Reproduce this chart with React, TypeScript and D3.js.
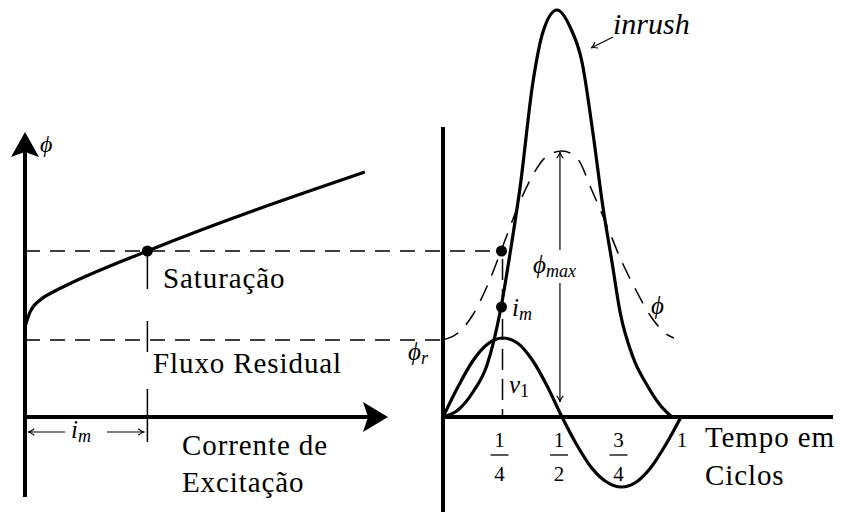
import React from 'react';
import * as d3 from 'd3';

const W = 841;
const H = 514;

// Magnetisation curve: excitation current vs. flux
const excitationCurrent = [0, 0.14, 0.42, 0.78, 1.17, 3.4, 9.44];
const magnetFlux = [0.9, 1.05, 1.17, 1.25, 1.32, 1.66, 2.45];

const saturationFlux = 1.66;
const residualFlux = 0.77;
const magnetizingCurrent = 3.4;
const fluxPeak = 2.67;
const fluxPeakTime = 0.483;
const inrushAtQuarter = 1.1;
const quarterCycle = 0.25;

// Applied voltage over one cycle
const voltageTime = [0, 0.0625, 0.125, 0.1875, 0.25, 0.3125, 0.375, 0.4375, 0.5, 0.5625, 0.625, 0.6875, 0.75, 0.8125, 0.875, 0.9375, 1];
const voltageValues = [0, 0.3, 0.56, 0.73, 0.79, 0.74, 0.57, 0.31, 0, -0.28, -0.51, -0.65, -0.7, -0.65, -0.5, -0.27, 0];

// Core flux starting from the residual flux
const fluxTime = [0, 0.0625, 0.125, 0.1875, 0.25, 0.3125, 0.375, 0.4375, 0.5, 0.5625, 0.625, 0.6875, 0.75, 0.8125, 0.875, 0.9375, 0.97];
const fluxValues = [0.77, 0.84, 1.02, 1.32, 1.7, 2.09, 2.41, 2.61, 2.66, 2.59, 2.27, 1.92, 1.56, 1.26, 1.0, 0.83, 0.79];

// Inrush current
const inrushTime = [0, 0.063, 0.126, 0.185, 0.244, 0.282, 0.324, 0.378, 0.42, 0.479, 0.534, 0.584, 0.63, 0.672, 0.71, 0.744, 0.798, 0.857, 0.912, 0.962];
const inrushValues = [0, 0.07, 0.25, 0.52, 1.1, 1.64, 2.3, 3.35, 3.85, 4.07, 3.9, 3.55, 2.84, 2.1, 1.55, 1.05, 0.6, 0.32, 0.12, 0];

const timeTicks = [
  { t: 0.25, num: '1', den: '4' },
  { t: 0.5, num: '1', den: '2' },
  { t: 0.75, num: '3', den: '4' },
];

const SERIF = "'Liberation Serif', 'DejaVu Serif', serif";

const yS = d3.scaleLinear().domain([0, 4]).range([417, 17]);
const xL = d3.scaleLinear().domain([0, 10]).range([25, 385]);
const xR = d3.scaleLinear().domain([0, 1]).range([443, 681]);

type Pt = [number, number];
const zip = (a: number[], b: number[]): Pt[] => a.map((v, i) => [v, b[i]]);

const lineL = d3
  .line<Pt>()
  .x((d) => xL(d[0]))
  .y((d) => yS(d[1]))
  .curve(d3.curveMonotoneX);

const lineR = d3
  .line<Pt>()
  .x((d) => xR(d[0]))
  .y((d) => yS(d[1]))
  .curve(d3.curveMonotoneX);

// Thick "stealth" arrow head, tip at (x, y), pointing along angle (deg, 0 = right)
function stealth(x: number, y: number, angle: number, len = 25, half = 14, notch = 5) {
  const pts: Pt[] = [
    [0, 0],
    [-len, -half],
    [-len + notch, 0],
    [-len, half],
  ];
  const a = (angle * Math.PI) / 180;
  const r = pts.map(([px, py]) => [x + px * Math.cos(a) - py * Math.sin(a), y + px * Math.sin(a) + py * Math.cos(a)]);
  return `M${r.map((p) => p.join(',')).join('L')}Z`;
}

// Thin open arrow head
function thinHead(x: number, y: number, angle: number, len = 7, spread = 28) {
  const a = (angle * Math.PI) / 180;
  const s = (spread * Math.PI) / 180;
  const p1 = [x - len * Math.cos(a - s), y - len * Math.sin(a - s)];
  const p2 = [x - len * Math.cos(a + s), y - len * Math.sin(a + s)];
  return `M${p1.join(',')}Q${x - 2 * Math.cos(a)},${y - 2 * Math.sin(a)} ${x},${y}Q${x - 2 * Math.cos(a)},${y - 2 * Math.sin(a)} ${p2.join(',')}`;
}

export default function App() {
  const axisY = yS(0);
  const satY = yS(saturationFlux);
  const resY = yS(residualFlux);
  const imX = xL(magnetizingCurrent);
  const qX = xR(quarterCycle);
  const peakX = xR(fluxPeakTime) + 2;
  const txt = { fontFamily: SERIF, fontSize: 29, letterSpacing: 0.9, fill: '#000' } as const;
  const math = { fontFamily: SERIF, fontStyle: 'italic', fill: '#000' } as const;

  return (
    <svg width={W} height={H} style={{ position: 'absolute', left: 0, top: 0, background: '#fff' }}>
      <rect width={W} height={H} fill="#fff" />

      {/* ---------- left panel: magnetisation curve ---------- */}
      <line x1={xL(0)} x2={xL(0)} y1={497} y2={150} stroke="#000" strokeWidth={4} />
      <path d={stealth(xL(0), 132, -90)} fill="#000" />
      <line x1={xL(0)} x2={372} y1={axisY} y2={axisY} stroke="#000" strokeWidth={4} />
      <path d={stealth(388, axisY, 0, 25, 15)} fill="#000" />
      <text x={40} y={152} {...math} fontSize={24}>ϕ</text>

      {/* guide lines */}
      <line x1={xL(0)} x2={qX - 4} y1={satY} y2={satY} stroke="#000" strokeWidth={1.5} strokeDasharray="15 10" />
      <line x1={xL(0)} x2={xR(0) - 2} y1={resY} y2={resY} stroke="#000" strokeWidth={1.5} strokeDasharray="15 10" />
      <line x1={imX} x2={imX} y1={satY} y2={443} stroke="#000" strokeWidth={1.5} strokeDasharray="38 32 31 37 53" />

      <path d={lineL(zip(excitationCurrent, magnetFlux)) || ''} fill="none" stroke="#000" strokeWidth={3.2} />
      <circle cx={imX} cy={satY} r={5.5} fill="#000" />

      {/* i_m dimension */}
      <line x1={xL(0) + 3} x2={65} y1={432} y2={432} stroke="#000" strokeWidth={1.2} />
      <path d={thinHead(xL(0) + 3, 432, 180)} fill="none" stroke="#000" strokeWidth={1.2} />
      <line x1={107} x2={imX - 3} y1={432} y2={432} stroke="#000" strokeWidth={1.2} />
      <path d={thinHead(imX - 3, 432, 0)} fill="none" stroke="#000" strokeWidth={1.2} />
      <text x={71} y={438} {...math} fontSize={25}>
        i<tspan fontSize={18} dy={4}>m</tspan>
      </text>

      <text x={163} y={288} {...txt}>Saturação</text>
      <text x={153} y={373} {...txt}>Fluxo Residual</text>
      <text x={182} y={455} {...txt}>Corrente de</text>
      <text x={182} y={492} {...txt}>Excitação</text>

      {/* ---------- right panel: time waveforms ---------- */}
      <line x1={xR(0)} x2={xR(0)} y1={127} y2={512} stroke="#000" strokeWidth={4} />
      <line x1={xR(0)} x2={833} y1={axisY} y2={axisY} stroke="#000" strokeWidth={4} />

      <line x1={qX} x2={qX} y1={satY + 8} y2={axisY} stroke="#000" strokeWidth={1.5} strokeDasharray="21 9" />

      <path d={lineR(zip(fluxTime, fluxValues)) || ''} fill="none" stroke="#000" strokeWidth={1.5} strokeDasharray="17 11" />
      <path d={lineR(zip(voltageTime, voltageValues)) || ''} fill="none" stroke="#000" strokeWidth={3.2} />
      <path d={lineR(zip(inrushTime, inrushValues)) || ''} fill="none" stroke="#000" strokeWidth={3.2} />

      <circle cx={qX - 1} cy={satY} r={5.5} fill="#000" />
      <circle cx={qX - 1} cy={yS(inrushAtQuarter)} r={5.5} fill="#000" />

      {/* phi_max dimension */}
      <line x1={peakX} x2={peakX} y1={yS(fluxPeak) + 2} y2={250} stroke="#000" strokeWidth={1.2} />
      <path d={thinHead(peakX, yS(fluxPeak) + 2, -90)} fill="none" stroke="#000" strokeWidth={1.2} />
      <line x1={peakX} x2={peakX} y1={283} y2={axisY - 15} stroke="#000" strokeWidth={1.2} />
      <path d={thinHead(peakX, axisY - 15, 90)} fill="none" stroke="#000" strokeWidth={1.2} />
      <text x={533} y={273} {...math} fontSize={25}>
        ϕ<tspan fontSize={18} dy={4}>max</tspan>
      </text>

      <text x={408} y={360} {...math} fontSize={25}>
        ϕ<tspan fontSize={18} dy={4}>r</tspan>
      </text>
      <text x={512} y={316} {...math} fontSize={25}>
        i<tspan fontSize={18} dy={4}>m</tspan>
      </text>
      <text x={509} y={393} {...math} fontSize={25}>
        v<tspan fontSize={18} fontStyle="normal" dy={4}>1</tspan>
      </text>
      <text x={651} y={314} {...math} fontSize={25}>ϕ</text>

      {/* inrush label */}
      <line x1={613} x2={593} y1={37} y2={47} stroke="#000" strokeWidth={1.2} />
      <path d={thinHead(591, 48, 152)} fill="none" stroke="#000" strokeWidth={1.2} />
      <text x={613} y={34} {...math} fontSize={30}>inrush</text>

      {/* time ticks */}
      {timeTicks.map((tk) => {
        const cx = xR(tk.t) - 3;
        return (
          <g key={tk.t}>
            <text x={cx} y={447} textAnchor="middle" fontFamily={SERIF} fontSize={21}>{tk.num}</text>
            <line x1={cx - 9} x2={cx + 9} y1={455} y2={455} stroke="#000" strokeWidth={1.3} />
            <text x={cx} y={481} textAnchor="middle" fontFamily={SERIF} fontSize={21}>{tk.den}</text>
          </g>
        );
      })}
      <text x={xR(1) + 1} y={447} textAnchor="middle" fontFamily={SERIF} fontSize={21}>1</text>
      <text x={705} y={447} {...txt}>Tempo em</text>
      <text x={705} y={485} {...txt}>Ciclos</text>
    </svg>
  );
}
